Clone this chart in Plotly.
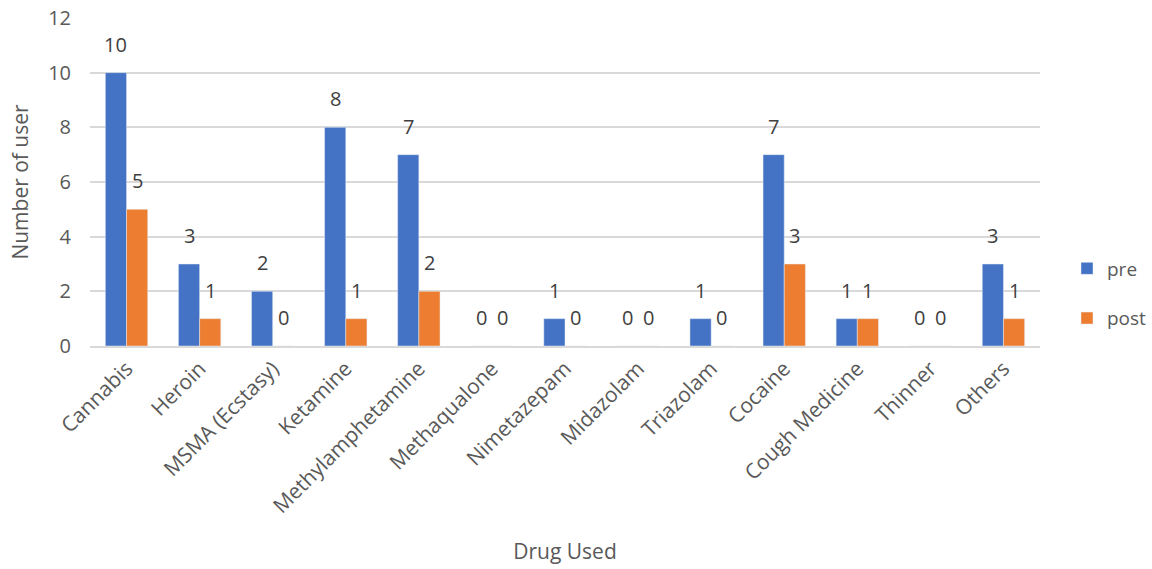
import plotly.graph_objects as go

categories = ["Cannabis", "Heroin", "MSMA (Ecstasy)", "Ketamine", "Methylamphetamine",
              "Methaqualone", "Nimetazepam", "Midazolam", "Triazolam", "Cocaine",
              "Cough Medicine", "Thinner", "Others"]
pre = [10, 3, 2, 8, 7, 0, 1, 0, 1, 7, 1, 0, 3]
post = [5, 1, 0, 1, 2, 0, 0, 0, 0, 3, 1, 0, 1]

FONT = "Open Sans"
W, H = 1152, 569
L, R, T, B = 90, 112, 18, 223
BARGAP = 0.42
cat_px = (W - L - R) / len(categories)
bar_px = cat_px * (1 - BARGAP) / 2

fig = go.Figure()
fig.add_trace(go.Bar(x=categories, y=pre, name="pre", marker_color="#4472C4",
                     legendgroup="a"))
fig.add_trace(go.Bar(x=categories, y=post, name="post", marker_color="#ED7D31",
                     legendgroup="b"))

annotations = []
for series, sign in ((pre, -1), (post, 1)):
    for c, v in zip(categories, series):
        annotations.append(dict(x=c, y=v, xref="x", yref="y", text=str(v),
                                showarrow=False, yanchor="bottom",
                                xshift=sign * bar_px / 2, yshift=13,
                                font=dict(size=20, color="#404040", family=FONT)))

fig.update_layout(
    width=W, height=H,
    margin=dict(l=L, r=R, t=T, b=B, autoexpand=False),
    plot_bgcolor="white", paper_bgcolor="white",
    barmode="group", bargap=BARGAP, bargroupgap=0,
    font=dict(family=FONT, size=20, color="#595959"),
    annotations=annotations,
    legend=dict(x=1.0 + 27 / (W - L - R), y=0.16, yanchor="middle", xanchor="left",
                font=dict(size=19, color="#595959"), tracegroupgap=22,
                traceorder="grouped", itemwidth=30),
    xaxis=dict(tickangle=-45, showline=True, linecolor="#D9D9D9", linewidth=2,
               ticks="", automargin=False, tickfont=dict(size=21, color="#595959"),
               title=dict(text="Drug Used", font=dict(size=21, color="#595959"), standoff=27)),
    yaxis=dict(range=[0, 12], dtick=2, showgrid=True, gridcolor="#D9D9D9", gridwidth=1.5,
               zeroline=False, ticks="", automargin=False, ticklabelstandoff=18,
               ticklabeloverflow="allow",
               tickfont=dict(size=20, color="#595959"),
               title=dict(text="Number of user", font=dict(size=21, color="#595959"), standoff=13)),
)
fig.write_html("out.html", config={"displayModeBar": False},
               post_script="document.body.style.margin='0';document.body.style.overflow='hidden';")
